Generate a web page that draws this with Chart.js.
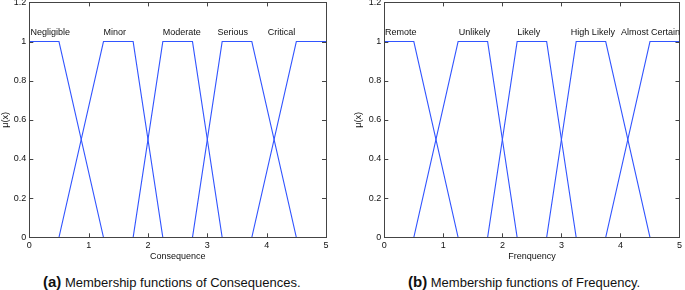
<!DOCTYPE html>
<html>
<head>
<meta charset="utf-8">
<script src="https://cdn.jsdelivr.net/npm/chart.js@4"></script>
<style>
  body { margin: 0; background: #fff; width: 685px; height: 290px; position: relative; overflow: hidden;
         font-family: "Liberation Sans", Arial, sans-serif; }
  .box { position: absolute; top: -6px; height: 272px; }
  .cap { position: absolute; top: 273px; font-size: 13px; color: #111; white-space: nowrap; }
  .cap b { font-size: 15px; }
</style>
</head>
<body>
<div class="box" style="left:0;width:340px"><canvas id="conseq"></canvas></div>
<div class="box" style="left:350px;width:335px"><canvas id="freq"></canvas></div>
<div class="cap" style="left:43px"><b>(a)</b> Membership functions of Consequences.</div>
<div class="cap" style="left:408px"><b>(b)</b> Membership functions of Frequency.</div>
<script>
// membership functions (trapezoids), x breakpoints and degrees
const conseqNames = ['Negligible', 'Minor', 'Moderate', 'Serious', 'Critical'];
const conseqX = [[0, 0.5, 1.25], [0.5, 1.25, 1.75, 2.25], [1.75, 2.25, 2.75, 3.25], [2.75, 3.25, 3.75, 4.5], [3.75, 4.5, 5]];
const conseqY = [[1, 1, 0], [0, 1, 1, 0], [0, 1, 1, 0], [0, 1, 1, 0], [0, 1, 1]];
const conseqLabelX = [0.02, 1.25, 2.25, 3.17, 4.02];

const freqNames = ['Remote', 'Unlikely', 'Likely', 'High Likely', 'Almost Certain'];
const freqX = [[0, 0.5, 1.25], [0.5, 1.25, 1.75, 2.25], [1.75, 2.25, 2.75, 3.25], [2.75, 3.25, 3.75, 4.5], [3.75, 4.5, 5]];
const freqY = [[1, 1, 0], [0, 1, 1, 0], [0, 1, 1, 0], [0, 1, 1, 0], [0, 1, 1]];
const freqLabelX = [0.01, 1.26, 2.25, 3.16, 4.01];

const labelLevel = 1.046;
const xTicks = [0, 1, 2, 3, 4, 5];
const yTicks = [0, 0.2, 0.4, 0.6, 0.8, 1, 1.2];

const FONT = { family: '"Liberation Sans", Arial, sans-serif', size: 9 };

// box round the plot with inward ticks, MATLAB style, plus the mf names
const framePlugin = {
  id: 'frame',
  afterDraw(chart) {
    const ctx = chart.ctx;
    const { left, right, top, bottom } = chart.chartArea;
    const xs = chart.scales.x, ys = chart.scales.y;
    ctx.save();
    ctx.strokeStyle = '#444';
    ctx.lineWidth = 1;
    ctx.strokeRect(Math.round(left) + 0.5, Math.round(top) + 0.5, Math.round(right - left), Math.round(bottom - top));
    ctx.beginPath();
    xTicks.forEach(v => {
      const px = Math.round(xs.getPixelForValue(v)) + 0.5;
      ctx.moveTo(px, bottom); ctx.lineTo(px, bottom - 4);
      ctx.moveTo(px, top); ctx.lineTo(px, top + 4);
    });
    yTicks.forEach(v => {
      const py = Math.round(ys.getPixelForValue(v)) + 0.5;
      ctx.moveTo(left, py); ctx.lineTo(left + 4, py);
      ctx.moveTo(right, py); ctx.lineTo(right - 4, py);
    });
    ctx.stroke();

    const opts = chart.options.plugins.frame;
    ctx.fillStyle = '#111';
    ctx.font = '9px "Liberation Sans", Arial, sans-serif';
    ctx.textBaseline = 'middle';
    ctx.textAlign = 'left';
    opts.names.forEach((n, i) => {
      ctx.fillText(n, xs.getPixelForValue(opts.labelX[i]), ys.getPixelForValue(labelLevel));
    });
    ctx.restore();
  }
};

function makeChart(id, names, xsArr, ysArr, labelX, xTitle, yWidth, titlePad, padRight) {
  const datasets = names.map((n, i) => ({
    label: n,
    data: xsArr[i].map((x, j) => ({ x: x, y: ysArr[i][j] })),
    borderColor: 'rgb(50,85,255)',
    borderWidth: 1.1,
    pointRadius: 0,
    fill: false,
    tension: 0
  }));
  const boxH = 272, chartBottom = 243.3;
  return new Chart(document.getElementById(id), {
    type: 'line',
    data: { datasets: datasets },
    plugins: [framePlugin],
    options: {
      responsive: true,
      maintainAspectRatio: false,
      animation: false,
      layout: { autoPadding: false, padding: { top: 4, right: padRight, bottom: 0, left: 0 } },
      plugins: {
        legend: { display: false },
        tooltip: { enabled: false },
        frame: { names: names, labelX: labelX }
      },
      scales: {
        x: {
          type: 'linear', min: 0, max: 5,
          grid: { display: false, drawTicks: false },
          border: { display: false },
          afterBuildTicks: s => { s.ticks = xTicks.map(v => ({ value: v })); },
          afterFit: s => { s.height = boxH - chartBottom; },
          ticks: { color: '#111', font: FONT, padding: 3, maxRotation: 0 },
          title: { display: true, text: xTitle, color: '#111', font: FONT, padding: { top: 0, bottom: 4 } }
        },
        y: {
          min: 0, max: 1.2,
          grid: { display: false, drawTicks: false },
          border: { display: false },
          afterBuildTicks: s => { s.ticks = yTicks.map(v => ({ value: v })); },
          afterFit: s => { s.width = yWidth; },
          ticks: { color: '#111', font: FONT, padding: 3, callback: v => String(Math.round(v * 10) / 10) },
          title: { display: true, text: 'μ(x)', color: '#111', font: FONT, padding: { top: titlePad, bottom: 0 } }
        }
      }
    }
  });
}

makeChart('conseq', conseqNames, conseqX, conseqY, conseqLabelX, 'Consequence', 29.3, 0, 14);
makeChart('freq', freqNames, freqX, freqY, freqLabelX, 'Frenquency', 34.3, 3, 3);
</script>
</body>
</html>
